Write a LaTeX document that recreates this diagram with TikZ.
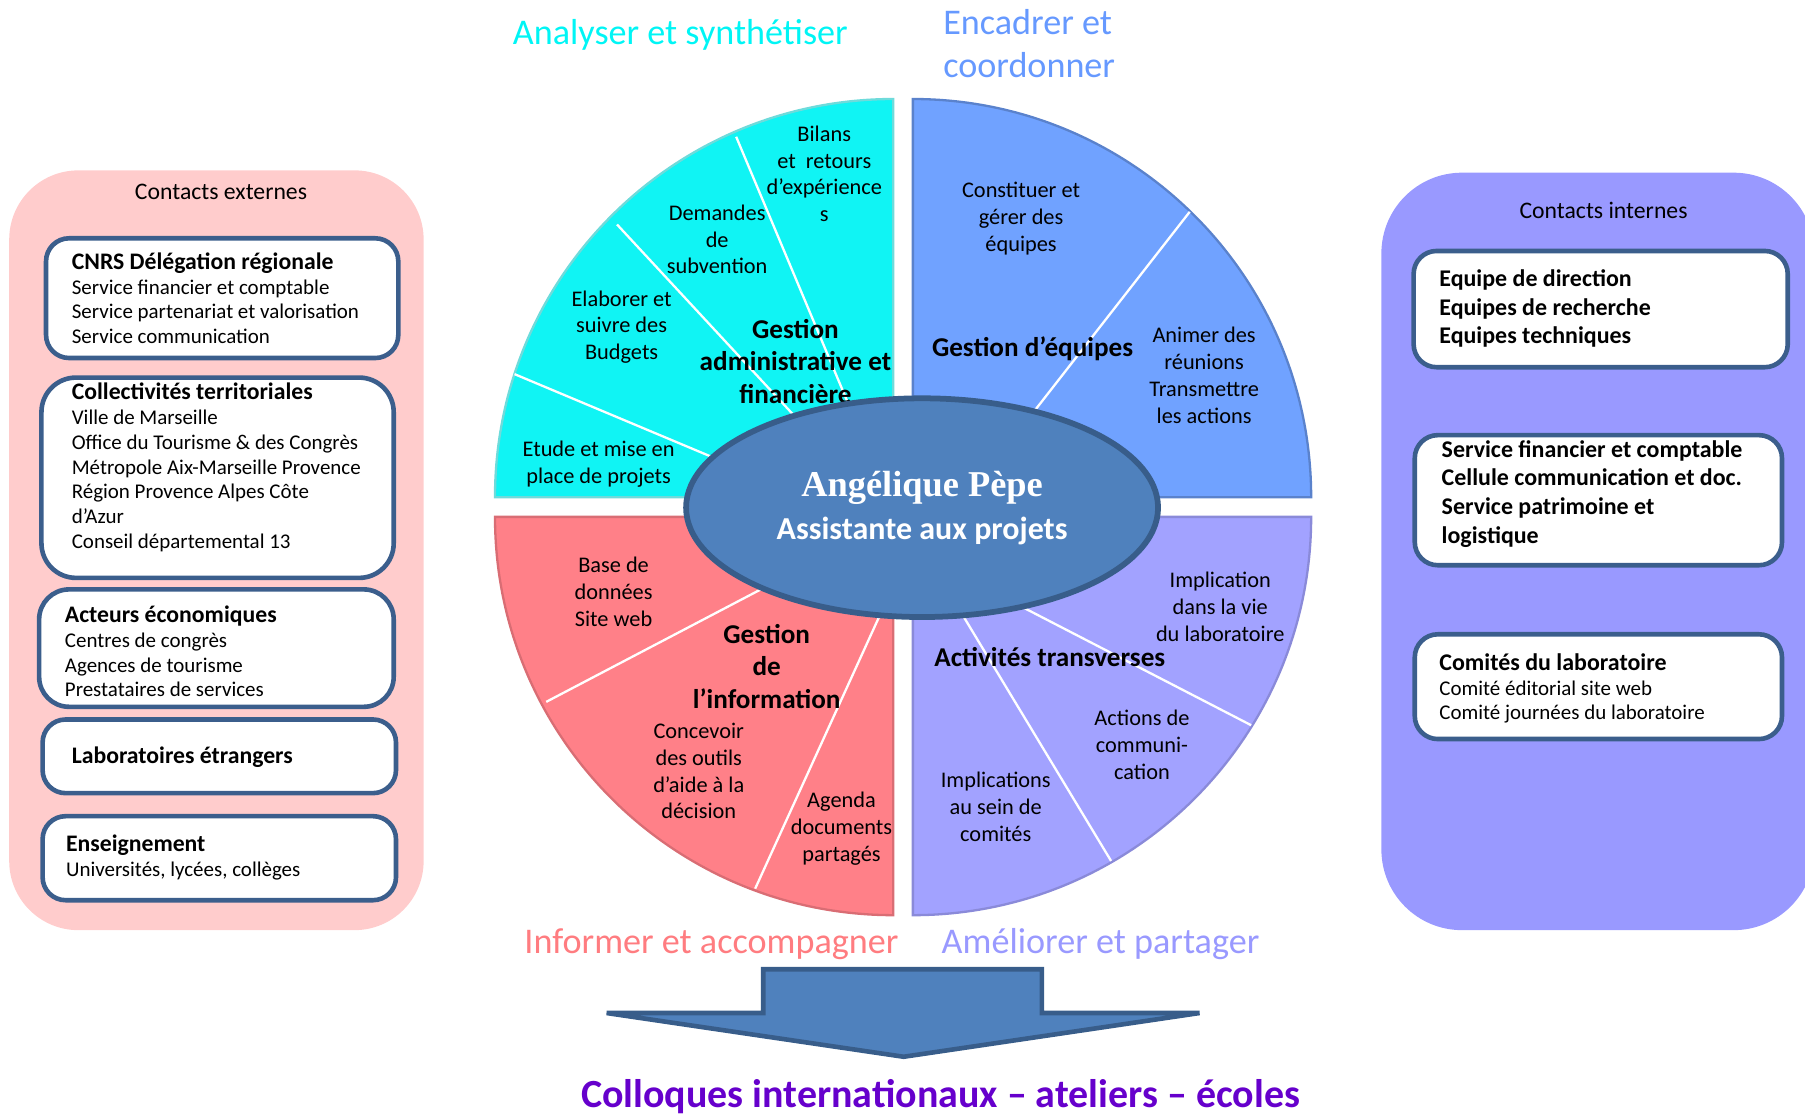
\documentclass[tikz,border=0pt]{standalone}
\usepackage{fontspec}
\setmainfont{Carlito}
\newfontfamily\namefont{Liberation Serif}
\usetikzlibrary{fit,shapes.geometric}
\definecolor{pinkpanel}{HTML}{FFCCCC}
\definecolor{purplepanel}{HTML}{9999FF}
\definecolor{boxblue}{HTML}{3B5E8C}
\definecolor{qcyan}{HTML}{10F4F4}
\definecolor{qblue}{HTML}{70A2FF}
\definecolor{qred}{HTML}{FF8088}
\definecolor{qpurple}{HTML}{A2A2FF}
\definecolor{ellfill}{HTML}{4F81BD}
\definecolor{ellborder}{HTML}{385D8A}
\definecolor{hcyan}{HTML}{00F5F5}
\definecolor{hblue}{HTML}{6699FF}
\definecolor{hred}{HTML}{FF7C80}
\definecolor{hpurple}{HTML}{9999FF}
\definecolor{colloq}{HTML}{6600CC}
\newcommand{\pbold}{\bfseries\fontsize{10.3}{10.75}\selectfont}
\begin{document}
\begin{tikzpicture}[x=0.5pt,y=-0.5pt,
  panel/.style={inner sep=0pt},
  pbox/.style={draw=boxblue, line width=2pt, fill=white, rounded corners=10pt, inner sep=0pt},
  ptext/.style={anchor=west, align=left, inner sep=0pt, font=\fontsize{9.1}{10.75}\selectfont},
  rtext/.style={anchor=west, align=left, inner sep=0pt, font=\bfseries\fontsize{10.4}{12.5}\selectfont},
  qt/.style={align=center, inner sep=0pt, font=\fontsize{9.7}{11.6}\selectfont},
  qtitle/.style={align=center, inner sep=0pt, font=\bfseries\fontsize{11.8}{14}\selectfont},
  divider/.style={white, line width=1pt},
  heading/.style={inner sep=0pt, font=\fontsize{15.7}{18.5}\selectfont}
]
\useasboundingbox (0,0) rectangle (1568,970);
\clip (0,0) rectangle (1568,970);

% ---------- left panel ----------
\node[panel, fill=pinkpanel, rounded corners=30pt, fit={(8,148)(368,808)}] (ext) {};
\node[inner sep=0pt, font=\fontsize{10.3}{11}\selectfont] (exttitle) at (192,167) {Contacts externes};

\node[pbox, fit={(40,207)(346,311)}] (cnrs) {};
\node[ptext] (cnrstext) at (62,259) {{\pbold CNRS Délégation régionale}\\Service financier et comptable\\Service partenariat et valorisation\\Service communication};

\node[pbox, rounded corners=15pt, fit={(36,328)(342,502)}] (coll) {};
\node[ptext] (colltext) at (62,406) {{\pbold Collectivités territoriales}\\Ville de Marseille\\Office du Tourisme \& des Congrès\\Métropole Aix-Marseille Provence\\Région Provence Alpes Côte\\d’Azur\\Conseil départemental 13};

\node[pbox, rounded corners=13pt, fit={(34,512)(342,614)}] (acteurs) {};
\node[ptext] (acteurstext) at (56,566) {{\pbold Acteurs économiques}\\Centres de congrès\\Agences de tourisme\\Prestataires de services};

\node[pbox, fit={(37,625)(344,689)}] (labos) {};
\node[ptext] (labostext) at (62,658) {\pbold Laboratoires étrangers};

\node[pbox, fit={(37,709)(344,782)}] (ens) {};
\node[ptext] (enstext) at (57,745) {{\pbold Enseignement}\\Universités, lycées, collèges};

% ---------- right panel ----------
\node[panel, fill=purplepanel, rounded corners=35pt, fit={(1200,150)(1576,808)}] (int) {};
\node[inner sep=0pt, font=\fontsize{10.3}{11}\selectfont] (inttitle) at (1393,183) {Contacts internes};

\node[pbox, fit={(1228,218)(1553,319)}] (dir) {};
\node[rtext] (dirtext) at (1250,268) {Equipe de direction\\Equipes de recherche\\Equipes techniques};

\node[pbox, fit={(1229,378)(1548,491)}] (serv) {};
\node[rtext] (servtext) at (1252,429) {Service financier et comptable\\Cellule communication et doc.\\Service patrimoine et\\logistique};

\node[pbox, fit={(1229,551)(1548,642)}] (comites) {};
\node[ptext] (comitestext) at (1250,598) {{\bfseries\fontsize{10.4}{10.75}\selectfont Comités du laboratoire}\\Comité éditorial site web\\Comité journées du laboratoire};

% ---------- pie quadrants ----------
\fill[qcyan] (776,432) -- (430,432) arc[start angle=180, end angle=270, radius=346] -- cycle;
\fill[qblue] (793,432) -- (793,86) arc[start angle=270, end angle=360, radius=346] -- cycle;
\fill[qpurple] (793,449) -- (1139,449) arc[start angle=0, end angle=90, radius=346] -- cycle;
\fill[qred] (776,449) -- (776,795) arc[start angle=90, end angle=180, radius=346] -- cycle;
\draw[qcyan!80!black!60, line width=1pt] (776,432) -- (430,432) arc[start angle=180, end angle=270, radius=346] -- cycle;
\draw[qblue!80!black, line width=1pt] (793,432) -- (793,86) arc[start angle=270, end angle=360, radius=346] -- cycle;
\draw[qpurple!85!black, line width=1pt] (793,449) -- (1139,449) arc[start angle=0, end angle=90, radius=346] -- cycle;
\draw[qred!85!black, line width=1pt] (776,449) -- (776,795) arc[start angle=90, end angle=180, radius=346] -- cycle;

% dividers
\draw[divider] (447,325) -- (640,406);
\draw[divider] (536,195) -- (700,372);
\draw[divider] (639.5,118.8) -- (745,370);
\draw[divider] (1033.5,184) -- (890,368);
\draw[divider] (474.5,609.7) -- (680,502);
\draw[divider] (656,772) -- (770,522);
\draw[divider] (1086.9,630) -- (870,518);
\draw[divider] (965.2,747.9) -- (830,524);

% quadrant texts
\node[qt] (bilans) at (716,151) {Bilans\\et\ \ retours\\d’expérience\\s};
\node[qt] (demandes) at (623,208) {Demandes\\de\\subvention};
\node[qt] (elaborer) at (540,284) {Elaborer et\\suivre des\\Budgets};
\node[qtitle] (gaf) at (691,314) {Gestion\\administrative et\\financière};
\node[qt] (etude) at (520,403) {Etude et mise en\\place de projets};

\node[qt] (constituer) at (887,190) {Constituer et\\gérer des\\équipes};
\node[qtitle] (geq) at (897,303) {Gestion d’équipes};
\node[qt] (animer) at (1046,326) {Animer des\\réunions\\Transmettre\\les actions};

\node[qt] (base) at (533,514) {Base de\\données\\Site web};
\node[qtitle] (ginfo) at (666,579) {Gestion\\de\\l’information};
\node[qt] (concevoir) at (607,670) {Concevoir\\des outils\\d’aide à la\\décision};
\node[qt] (agenda) at (731,720) {Agenda\\documents\\partagés};

\node[qt] (implication) at (1060,527) {Implication\\dans la vie\\du laboratoire};
\node[qtitle] (activites) at (912,571) {Activités transverses};
\node[qt] (actions) at (992,647) {Actions de\\communi-\\cation};
\node[qt] (implications) at (865,701) {Implications\\au sein de\\comités};

% centre ellipse
\node[ellipse, draw=ellborder, line width=2.5pt, fill=ellfill, minimum width=205pt, minimum height=95pt, inner sep=0pt] (centre) at (801,441) {};
\node[inner sep=0pt, text=white, font=\namefont\bfseries\fontsize{15.8}{18}\selectfont] (name) at (801,424) {Angélique Pèpe};
\node[inner sep=0pt, text=white, font=\bfseries\fontsize{13.9}{16}\selectfont] (role) at (801,461) {Assistante aux projets};

% headings
\node[heading, text=hcyan] (h1) at (591,30) {Analyser et synthétiser};
\node[heading, text=hblue, anchor=west, align=left] (h2) at (819,38) {Encadrer et\\coordonner};
\node[heading, text=hred] (h3) at (618,820) {Informer et accompagner};
\node[heading, text=hpurple] (h4) at (956,820) {Améliorer et partager};

% arrow
\draw[fill=ellfill, draw=ellborder, line width=2pt, line join=miter] (663,842) -- (905,842) -- (905,880) -- (1042,880) -- (785,918) -- (527,880) -- (663,880) -- cycle;
\node[inner sep=0pt, text=colloq, font=\bfseries\fontsize{17.35}{20}\selectfont] (colloques) at (817,953) {Colloques internationaux – ateliers – écoles};
\end{tikzpicture}
\end{document}
